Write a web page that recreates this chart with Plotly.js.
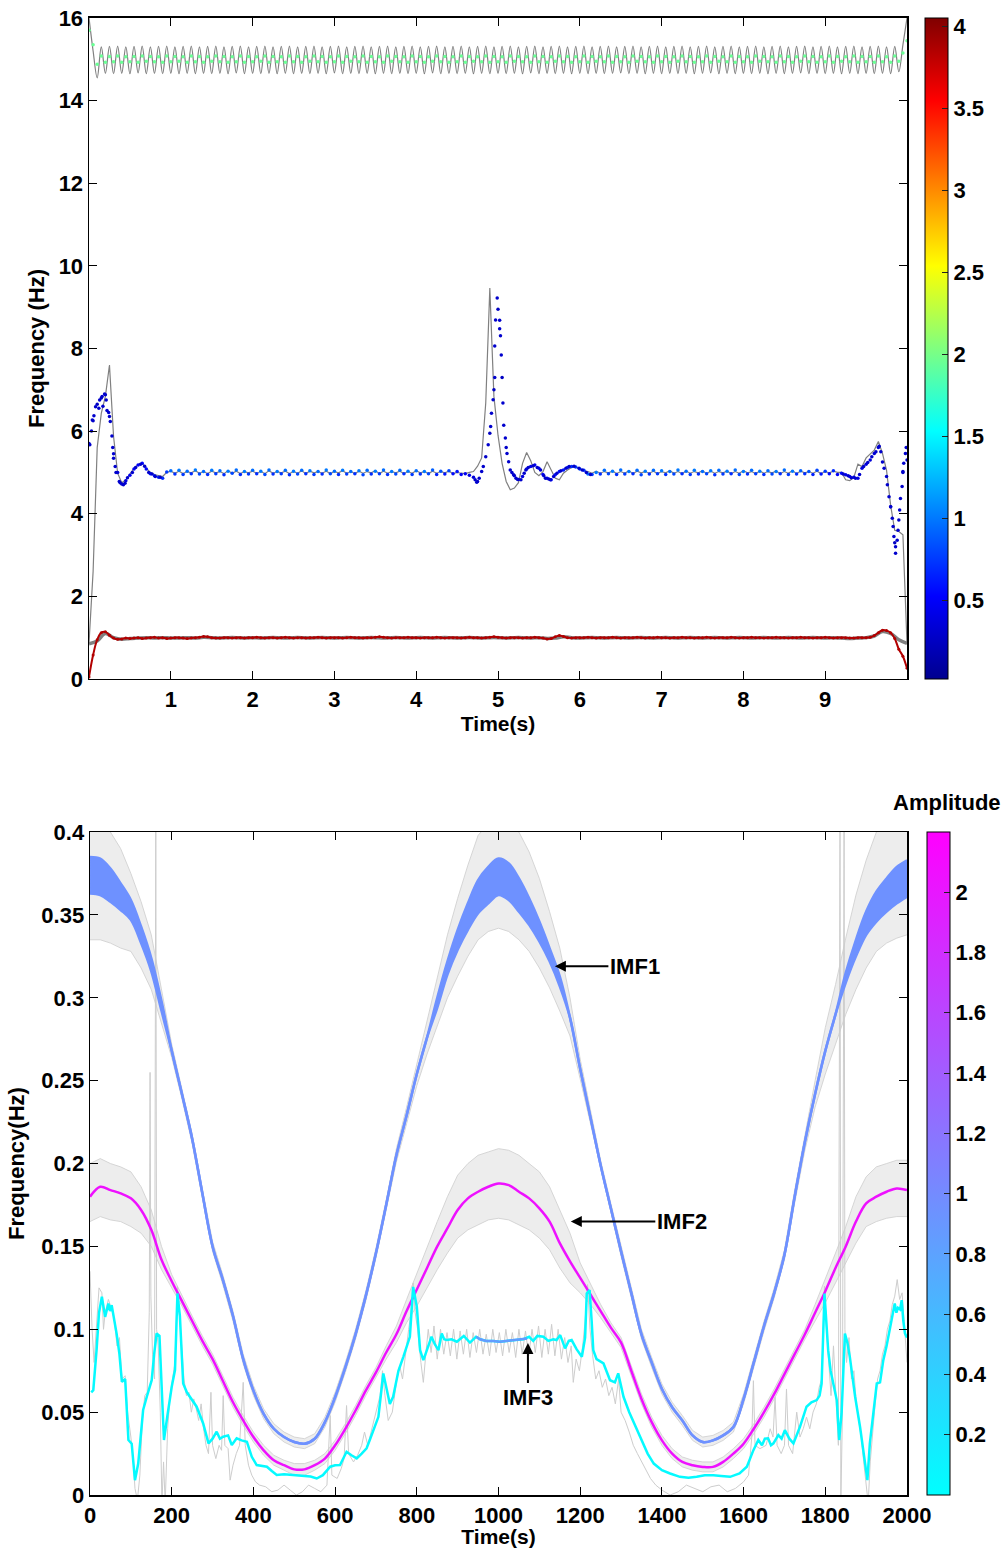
<!DOCTYPE html>
<html>
<head>
<meta charset="utf-8">
<script src="https://cdn.plot.ly/plotly-3.0.1.min.js"></script>
<style>html,body{margin:0;padding:0;background:#fff}#chart{width:1007px;height:1548px}</style>
</head>
<body>
<div id="chart"></div>
<script>
// ================= TOP PANEL DATA (time step 0.05 s, 0..10 s) =================
const TOP_DT = 0.05;
// grey reference line around 15 Hz
const GREY_15 = [
16.00,15.20,14.55,15.30,14.66,15.31,14.65,15.32,14.66,15.30,
14.65,15.31,14.67,15.32,14.65,15.30,14.66,15.31,14.65,15.32,
14.66,15.30,14.65,15.31,14.66,15.32,14.65,15.30,14.66,15.31,
14.65,15.32,14.66,15.30,14.65,15.31,14.67,15.32,14.65,15.30,
14.66,15.31,14.65,15.32,14.66,15.30,14.65,15.31,14.66,15.32,
14.65,15.30,14.66,15.31,14.65,15.32,14.66,15.30,14.65,15.31,
14.67,15.32,14.65,15.30,14.66,15.31,14.65,15.32,14.66,15.30,
14.65,15.31,14.66,15.32,14.65,15.30,14.66,15.31,14.65,15.32,
14.66,15.30,14.65,15.31,14.67,15.32,14.65,15.30,14.66,15.31,
14.65,15.32,14.66,15.30,14.65,15.31,14.66,15.32,14.65,15.30,
14.66,15.31,14.65,15.32,14.66,15.30,14.65,15.31,14.67,15.32,
14.65,15.30,14.66,15.31,14.65,15.32,14.66,15.30,14.65,15.31,
14.66,15.32,14.65,15.30,14.66,15.31,14.65,15.32,14.66,15.30,
14.67,15.31,14.65,15.32,14.66,15.30,14.65,15.31,14.66,15.32,
14.65,15.30,14.66,15.31,14.65,15.32,14.66,15.30,14.65,15.31,
14.66,15.32,14.67,15.30,14.65,15.31,14.66,15.32,14.65,15.30,
14.66,15.31,14.65,15.32,14.66,15.30,14.65,15.31,14.66,15.32,
14.65,15.30,14.66,15.31,14.67,15.32,14.65,15.30,14.66,15.31,
14.65,15.32,14.66,15.30,14.65,15.31,14.66,15.32,14.65,15.30,
14.66,15.31,14.65,15.32,14.66,15.30,14.65,15.31,14.70,15.35,
16.00];
// estimated frequency points around 15 Hz
const EST_15 = [
15.70,15.35,14.88,15.08,14.93,15.07,14.94,15.08,14.93,15.06,
14.94,15.07,14.93,15.08,14.95,15.07,14.94,15.06,14.93,15.08,
14.94,15.07,14.95,15.06,14.93,15.08,14.94,15.07,14.93,15.06,
14.95,15.08,14.94,15.07,14.93,15.06,14.94,15.08,14.93,15.07,
14.94,15.06,14.95,15.08,14.93,15.07,14.94,15.06,14.93,15.08,
14.94,15.07,14.93,15.06,14.95,15.08,14.94,15.07,14.93,15.06,
14.94,15.08,14.93,15.07,14.95,15.06,14.94,15.08,14.93,15.07,
14.94,15.06,14.93,15.08,14.95,15.07,14.94,15.06,14.93,15.08,
14.94,15.07,14.93,15.06,14.95,15.08,14.94,15.07,14.93,15.06,
14.94,15.08,14.93,15.07,14.95,15.06,14.94,15.08,14.93,15.07,
14.94,15.06,14.93,15.08,14.95,15.07,14.94,15.06,14.93,15.08,
14.94,15.07,14.93,15.06,14.95,15.08,14.94,15.07,14.93,15.06,
14.94,15.08,14.93,15.07,14.95,15.06,14.94,15.08,14.93,15.07,
14.94,15.06,14.93,15.08,14.95,15.07,14.94,15.06,14.93,15.08,
14.94,15.07,14.93,15.06,14.95,15.08,14.94,15.07,14.93,15.06,
14.94,15.08,14.93,15.07,14.95,15.06,14.94,15.08,14.93,15.07,
14.94,15.06,14.93,15.08,14.95,15.07,14.94,15.06,14.93,15.08,
14.94,15.07,14.93,15.06,14.95,15.08,14.94,15.07,14.93,15.06,
14.94,15.08,14.93,15.07,14.95,15.06,14.94,15.08,14.93,15.07,
14.94,15.07,14.93,15.08,14.94,15.06,14.93,15.08,14.95,15.15,
15.45];
const AMP_15 = 1.95;

// grey reference line around 5 Hz
const GREY_5 = [
0.88,2.60,5.60,6.43,6.84,7.60,5.87,4.98,4.75,4.82,
4.96,5.10,5.19,5.22,5.10,5.00,4.95,4.92,4.90,5.00,
5.03,4.98,5.03,4.97,5.02,4.99,5.04,4.98,5.02,4.97,
5.03,4.99,5.02,4.97,5.04,4.98,5.03,4.97,5.02,4.99,
5.03,4.98,5.02,4.97,5.04,4.98,5.02,4.99,5.03,4.97,
5.02,4.98,5.04,4.97,5.03,4.99,5.02,4.98,5.03,4.97,
5.02,4.99,5.04,4.98,5.02,4.97,5.03,4.98,5.02,4.99,
5.04,4.97,5.03,4.98,5.02,4.99,5.03,4.97,5.02,4.98,
5.04,4.99,5.02,4.97,5.03,4.98,5.02,4.99,5.03,4.97,
5.00,4.98,4.97,5.00,5.02,5.15,5.35,6.68,9.46,6.84,
5.90,5.22,4.78,4.58,4.62,4.75,5.22,5.48,5.28,5.00,
4.92,5.02,5.26,5.06,4.86,4.82,4.98,5.06,5.12,5.14,
5.08,5.04,5.02,4.98,5.03,4.98,5.02,4.99,5.03,4.97,
5.02,4.98,5.04,4.97,5.03,4.99,5.02,4.98,5.03,4.97,
5.02,4.99,5.04,4.98,5.02,4.97,5.03,4.98,5.02,4.99,
5.04,4.97,5.03,4.98,5.02,4.99,5.03,4.97,5.02,4.98,
5.04,4.99,5.02,4.97,5.03,4.98,5.02,4.99,5.03,4.97,
5.02,4.98,5.04,4.97,5.03,4.99,5.02,4.98,5.03,4.97,
5.02,4.99,5.03,5.00,5.00,4.82,4.80,4.88,5.20,5.14,
5.35,5.45,5.54,5.75,5.46,5.05,4.20,3.60,3.57,3.49,
0.86];
// estimated frequency points around 5 Hz
const EST_5 = [
5.70,6.25,6.65,6.80,6.88,6.35,5.45,5.00,4.72,4.80,
4.93,5.08,5.18,5.22,5.08,4.97,4.92,4.88,4.86,5.01,
5.04,4.96,5.05,4.95,5.03,4.97,5.06,4.96,5.02,4.95,
5.05,4.97,5.04,4.94,5.03,4.98,5.06,4.95,5.02,4.96,
5.05,4.97,5.03,4.95,5.06,4.96,5.02,4.97,5.05,4.94,
5.03,4.96,5.05,4.97,5.04,4.95,5.02,4.96,5.06,4.97,
5.03,4.95,5.05,4.96,5.02,4.97,5.04,4.94,5.05,4.96,
5.03,4.97,5.06,4.95,5.02,4.96,5.05,4.97,5.03,4.95,
5.04,4.96,5.02,4.97,5.06,4.95,5.03,4.96,5.04,4.97,
5.02,4.95,4.97,4.93,4.88,4.78,5.02,5.38,5.95,7.00,
8.95,7.30,5.60,5.06,4.92,4.83,4.90,5.08,5.14,5.18,
5.10,4.95,4.86,4.82,4.94,5.02,5.06,5.12,5.14,5.13,
5.08,5.05,4.96,4.95,5.00,4.96,5.05,4.97,5.03,4.95,
5.06,4.96,5.02,4.97,5.05,4.94,5.03,4.96,5.05,4.97,
5.04,4.95,5.02,4.96,5.06,4.97,5.03,4.95,5.05,4.96,
5.02,4.97,5.04,4.94,5.05,4.96,5.03,4.97,5.06,4.95,
5.02,4.96,5.05,4.97,5.03,4.95,5.04,4.96,5.02,4.97,
5.06,4.95,5.03,4.96,5.04,4.97,5.02,4.95,5.05,4.96,
5.03,4.97,5.04,4.95,4.98,4.94,4.90,4.88,4.86,5.10,
5.20,5.30,5.46,5.60,5.25,4.90,4.17,3.30,3.85,5.00,
5.30];
const AMP_5 = [
0.30,0.28,0.25,0.25,0.28,0.30,0.32,0.35,0.35,0.40,
0.45,0.50,0.50,0.55,0.55,0.60,0.62,0.65,0.70,0.75,
0.95,0.70,1.00,0.75,0.95,0.70,1.00,0.80,0.95,0.70,
1.00,0.75,0.95,0.70,1.00,0.80,0.95,0.70,1.00,0.75,
0.95,0.70,1.00,0.80,0.95,0.70,1.00,0.75,0.95,0.70,
1.00,0.80,0.95,0.70,1.00,0.75,0.95,0.70,1.00,0.80,
0.95,0.70,1.00,0.75,0.95,0.70,1.00,0.80,0.95,0.70,
1.00,0.75,0.95,0.70,1.00,0.80,0.95,0.70,1.00,0.75,
0.95,0.70,1.00,0.80,0.90,0.65,0.85,0.60,0.80,0.55,
0.60,0.50,0.45,0.40,0.35,0.30,0.30,0.28,0.25,0.25,
0.25,0.25,0.28,0.30,0.32,0.35,0.38,0.40,0.42,0.45,
0.48,0.50,0.52,0.55,0.58,0.60,0.62,0.65,0.70,0.75,
0.80,0.70,0.95,0.75,1.00,0.70,0.95,0.80,1.00,0.70,
0.95,0.75,1.00,0.70,0.95,0.80,1.00,0.70,0.95,0.75,
1.00,0.70,0.95,0.80,1.00,0.70,0.95,0.75,1.00,0.70,
0.95,0.80,1.00,0.70,0.95,0.75,1.00,0.70,0.95,0.80,
1.00,0.70,0.95,0.75,1.00,0.70,0.95,0.80,1.00,0.70,
0.95,0.75,1.00,0.70,0.90,0.70,0.85,0.65,0.80,0.60,
0.75,0.55,0.70,0.50,0.55,0.45,0.45,0.40,0.40,0.38,
0.36,0.35,0.33,0.32,0.30,0.30,0.28,0.25,0.25,0.28,
0.30];
// densely sampled transient points [time, frequency]
const EST_5_START = [[0.01,5.67],[0.03,6.0],[0.04,6.27],[0.06,6.37],[0.08,6.59],[0.12,6.55],[0.13,6.75],[0.16,6.84],[0.17,6.6],[0.19,6.9],[0.21,6.75],[0.22,6.5],[0.24,6.45],[0.26,6.23],[0.28,5.88],[0.29,5.6],[0.30,5.34],[0.32,5.14],[0.33,5.0],[0.37,4.78],[0.38,4.75],[0.42,4.70],[0.44,4.74],[0.47,4.87],[0.53,5.0],[0.57,5.12],[0.63,5.2],[0.68,5.15],[0.73,5.0],[0.77,4.96],[0.81,4.9],[0.87,4.88]];
const EST_5_SPIKE = [[4.72,4.82],[4.74,4.76],[4.77,4.86],[4.82,5.14],[4.88,5.67],[4.91,6.11],[4.92,6.43],[4.94,6.76],[4.96,7.30],[4.96,8.06],[4.97,8.69],[4.99,9.22],[5.02,8.68],[5.02,8.48],[5.03,8.31],[5.04,7.84],[5.06,6.68],[5.07,6.14],[5.09,5.83],[5.11,5.46],[5.13,5.26],[5.17,5.0],[5.19,4.94],[5.22,4.86],[5.24,4.83],[5.28,4.82],[5.32,4.98],[5.34,5.06],[5.37,5.12],[5.43,5.16],[5.48,5.12],[5.52,5.06],[5.56,4.92],[5.58,4.86],[5.62,4.84],[5.64,4.82],[5.68,4.9],[5.72,4.98],[5.77,5.04],[5.83,5.1],[5.87,5.14],[5.93,5.15],[5.99,5.1],[6.03,5.06],[6.08,5.0],[6.13,4.95]];
const EST_5_END = [[9.22,4.96],[9.28,4.92],[9.32,4.87],[9.37,4.86],[9.42,4.95],[9.47,5.14],[9.52,5.24],[9.57,5.38],[9.62,5.5],[9.66,5.63],[9.68,5.5],[9.72,5.1],[9.76,4.7],[9.78,4.41],[9.80,4.17],[9.82,3.89],[9.83,3.69],[9.84,3.45],[9.86,3.20],[9.86,3.04],[9.88,3.36],[9.89,3.6],[9.91,4.09],[9.92,4.37],[9.94,4.66],[9.95,5.02],[9.96,5.22],[9.98,5.46],[9.99,5.6]];
const AMP_TRANSIENT = 0.3;

// estimated frequency around 1 Hz (0.05 s step)
const EST_1 = [
0.05,0.58,0.95,1.12,1.14,1.06,0.99,0.96,0.97,0.99,
0.98,0.99,1.00,0.98,0.99,1.00,1.01,0.99,1.00,0.98,
0.99,1.00,1.00,0.99,0.98,0.99,1.00,1.01,1.03,1.02,
1.00,0.99,0.99,1.00,1.00,0.99,1.00,1.00,0.99,1.00,
1.00,1.01,1.00,0.99,1.00,1.00,0.99,1.00,1.01,1.00,
0.99,1.00,1.00,0.99,1.00,1.00,1.01,1.00,0.99,1.00,
1.00,1.00,0.99,1.00,1.01,1.00,1.00,0.99,1.00,1.00,
1.01,1.02,1.01,1.00,0.99,1.00,1.00,1.00,1.01,1.00,
1.00,0.99,1.00,1.00,1.00,1.01,1.00,0.99,1.00,1.00,
1.00,0.99,1.00,1.01,1.00,1.00,0.99,1.00,1.01,1.02,
1.01,1.00,0.99,1.00,1.00,1.00,0.99,1.00,1.00,1.01,
1.00,0.99,0.97,0.98,1.02,1.05,1.03,1.00,0.99,1.00,
1.00,1.00,1.01,1.00,0.99,1.00,1.00,1.00,1.01,1.00,
0.99,1.00,1.00,1.00,1.01,1.00,0.99,1.00,1.00,1.01,
1.00,1.00,0.99,1.00,1.00,1.01,1.00,1.00,0.99,1.00,
1.00,1.01,1.00,0.99,1.00,1.00,1.00,1.01,1.00,0.99,
1.00,1.00,1.01,1.00,1.00,0.99,1.00,1.00,1.01,1.00,
1.00,0.99,1.00,1.00,1.01,1.00,1.00,0.99,1.00,1.00,
1.01,1.00,0.99,1.00,1.00,1.00,0.99,0.99,1.00,1.00,
1.00,1.01,1.05,1.12,1.18,1.17,1.12,0.98,0.72,0.55,
0.26];
const AMP_1 = 3.85;
// grey reference line around 1 Hz (0.1 s step)
const GREY_1_DT = 0.1;
const GREY_1 = [
0.85,0.92,1.10,1.00,0.96,0.98,0.99,1.00,0.99,1.00,
0.99,0.99,1.00,0.99,1.01,1.00,0.99,1.00,1.00,0.99,
1.00,0.99,1.00,1.00,0.99,1.00,1.00,0.99,1.00,1.00,
0.99,1.00,1.00,0.99,1.00,1.00,0.99,1.00,1.00,0.99,
1.00,1.00,0.99,1.00,1.00,0.99,1.00,1.00,0.99,1.00,
1.00,0.99,1.00,1.00,0.99,1.00,0.98,0.99,1.02,1.00,
0.99,1.00,1.00,0.99,1.00,1.00,0.99,1.00,1.00,0.99,
1.00,1.00,0.99,1.00,1.00,0.99,1.00,1.00,0.99,1.00,
1.00,0.99,1.00,1.00,0.99,1.00,1.00,0.99,1.00,1.00,
0.99,1.00,0.99,0.98,0.99,1.00,1.04,1.15,1.10,0.95,
0.86];

// ================= BOTTOM PANEL DATA (step 25 s, 0..2000 s) =================
const BOT_DT = 25;
const IMF1_UP = [
0.385,0.384,0.378,0.369,0.359,0.343,0.324,0.298,
0.268,0.242,0.215,0.182,0.150,0.130,0.108,0.082,
0.063,0.049,0.040,0.035,0.032,0.031,0.034,0.044,
0.059,0.077,0.097,0.120,0.146,0.175,0.205,0.229,
0.254,0.276,0.300,0.322,0.341,0.357,0.371,0.379,
0.384,0.381,0.372,0.360,0.346,0.330,0.313,0.288,
0.257,0.228,0.199,0.173,0.147,0.122,0.097,0.080,
0.064,0.053,0.045,0.036,0.032,0.033,0.036,0.041,
0.058,0.080,0.102,0.122,0.145,0.180,0.213,0.242,
0.268,0.290,0.315,0.335,0.352,0.364,0.372,0.379,
0.383];
const IMF1_LO = [
0.363,0.362,0.358,0.353,0.347,0.333,0.316,0.292,
0.268,0.242,0.215,0.182,0.150,0.130,0.108,0.082,
0.063,0.049,0.040,0.035,0.032,0.031,0.034,0.044,
0.059,0.077,0.097,0.120,0.146,0.175,0.205,0.229,
0.254,0.276,0.294,0.314,0.329,0.341,0.351,0.357,
0.362,0.359,0.352,0.344,0.334,0.322,0.307,0.288,
0.257,0.228,0.199,0.173,0.147,0.122,0.097,0.080,
0.064,0.053,0.045,0.036,0.032,0.033,0.036,0.041,
0.058,0.080,0.102,0.122,0.145,0.180,0.213,0.242,
0.268,0.290,0.309,0.325,0.338,0.346,0.352,0.357,
0.361];
const IMF2 = [
0.180,0.186,0.184,0.182,0.179,0.172,0.160,0.142,
0.129,0.117,0.105,0.093,0.082,0.069,0.056,0.045,
0.035,0.027,0.021,0.018,0.0155,0.0155,0.018,0.022,
0.030,0.040,0.051,0.063,0.074,0.086,0.097,0.111,
0.124,0.137,0.150,0.161,0.172,0.179,0.183,0.186,
0.188,0.187,0.183,0.179,0.173,0.165,0.152,0.141,
0.131,0.121,0.111,0.101,0.092,0.075,0.058,0.044,
0.033,0.025,0.020,0.018,0.017,0.017,0.020,0.025,
0.031,0.040,0.050,0.061,0.073,0.085,0.097,0.110,
0.123,0.137,0.150,0.165,0.176,0.180,0.183,0.185,
0.184];
// grey (unsmoothed) envelopes
const GREY1_UP = [
0.405,0.405,0.400,0.390,0.375,0.358,0.338,0.305,
0.272,0.245,0.218,0.185,0.153,0.133,0.111,0.085,
0.066,0.052,0.043,0.038,0.035,0.034,0.037,0.047,
0.062,0.080,0.100,0.123,0.149,0.178,0.209,0.234,
0.261,0.286,0.312,0.338,0.360,0.380,0.398,0.405,
0.405,0.405,0.400,0.388,0.372,0.352,0.330,0.300,
0.263,0.232,0.202,0.176,0.150,0.125,0.100,0.083,
0.067,0.056,0.048,0.039,0.035,0.036,0.039,0.044,
0.061,0.083,0.105,0.125,0.148,0.184,0.218,0.250,
0.282,0.308,0.336,0.362,0.383,0.400,0.405,0.405,
0.405];
const GREY1_LO = [
0.335,0.335,0.333,0.330,0.328,0.318,0.305,0.285,
0.264,0.239,0.212,0.179,0.147,0.127,0.105,0.079,
0.060,0.046,0.037,0.032,0.029,0.028,0.031,0.041,
0.056,0.074,0.094,0.117,0.143,0.172,0.201,0.224,
0.247,0.266,0.283,0.300,0.313,0.325,0.335,0.340,
0.342,0.340,0.335,0.328,0.318,0.306,0.292,0.277,
0.251,0.224,0.196,0.170,0.144,0.119,0.094,0.077,
0.061,0.050,0.042,0.033,0.029,0.030,0.033,0.038,
0.055,0.077,0.099,0.119,0.142,0.176,0.208,0.234,
0.254,0.272,0.290,0.305,0.318,0.328,0.333,0.336,
0.338];
const GREY2_UP = [
0.200,0.203,0.200,0.198,0.195,0.186,0.172,0.150,
0.133,0.120,0.108,0.096,0.085,0.072,0.059,0.048,
0.038,0.030,0.024,0.021,0.019,0.019,0.021,0.025,
0.033,0.043,0.054,0.066,0.077,0.090,0.102,0.118,
0.134,0.150,0.165,0.180,0.193,0.200,0.205,0.207,
0.209,0.208,0.205,0.200,0.195,0.186,0.172,0.158,
0.140,0.127,0.115,0.104,0.095,0.078,0.061,0.047,
0.036,0.028,0.023,0.021,0.020,0.020,0.023,0.028,
0.034,0.043,0.053,0.064,0.076,0.088,0.100,0.115,
0.130,0.146,0.162,0.180,0.192,0.198,0.200,0.202,
0.202];
const GREY2_LO = [
0.165,0.168,0.166,0.165,0.162,0.158,0.150,0.136,
0.125,0.114,0.102,0.090,0.079,0.066,0.053,0.042,
0.032,0.024,0.018,0.015,0.012,0.012,0.015,0.019,
0.027,0.037,0.048,0.060,0.071,0.082,0.092,0.104,
0.114,0.125,0.136,0.146,0.155,0.160,0.163,0.166,
0.167,0.166,0.163,0.160,0.155,0.148,0.137,0.128,
0.122,0.115,0.107,0.098,0.089,0.072,0.055,0.041,
0.030,0.022,0.017,0.015,0.014,0.014,0.017,0.022,
0.028,0.037,0.047,0.058,0.070,0.082,0.094,0.105,
0.116,0.128,0.140,0.152,0.162,0.165,0.167,0.168,
0.168];
// IMF3 [time, frequency]
const IMF3 = [[3,0.062],[8,0.0633],[16,0.0874],[22,0.11],[29,0.1196],[37,0.1075],[45,0.1156],[49,0.111],[53,0.1146],[60,0.105],[65,0.0975],[72,0.085],[78,0.0683],[86,0.070],[94,0.0332],[102,0.031],[110,0.009],[118,0.019],[124,0.038],[130,0.0513],[139,0.0593],[151,0.0693],[157,0.085],[163,0.0975],[170,0.096],[175,0.0633],[181,0.0332],[189,0.0472],[200,0.0653],[208,0.0754],[214,0.1216],[220,0.108],[228,0.0673],[237,0.062],[245,0.0593],[261,0.0533],[277,0.0432],[290,0.0312],[300,0.034],[310,0.0382],[318,0.034],[326,0.0352],[338,0.036],[347,0.0302],[359,0.0342],[371,0.033],[384,0.0322],[396,0.0231],[408,0.0181],[420,0.0175],[433,0.0171],[445,0.0145],[457,0.0121],[475,0.0125],[490,0.0121],[505,0.0118],[522,0.0115],[540,0.0112],[555,0.0100],[570,0.012],[588,0.0171],[600,0.018],[612,0.0181],[620,0.022],[628,0.0261],[640,0.024],[653,0.0221],[665,0.025],[677,0.0282],[686,0.034],[694,0.0392],[706,0.0472],[718,0.0734],[726,0.065],[734,0.055],[742,0.0593],[755,0.075],[767,0.0834],[775,0.09],[783,0.0955],[791,0.1256],[800,0.1136],[808,0.0874],[816,0.0814],[824,0.087],[830,0.092],[836,0.0955],[844,0.091],[853,0.0874],[861,0.0975],[867,0.094],[873,0.0935],[885,0.094],[898,0.0925],[915,0.096],[930,0.092],[945,0.0955],[955,0.094],[970,0.093],[987,0.093],[1003,0.0925],[1020,0.093],[1040,0.0935],[1061,0.094],[1075,0.0955],[1085,0.093],[1095,0.096],[1110,0.0955],[1122,0.093],[1134,0.094],[1142,0.0935],[1151,0.0965],[1163,0.0885],[1172,0.093],[1179,0.0935],[1191,0.088],[1204,0.0834],[1212,0.095],[1216,0.1216],[1223,0.1236],[1228,0.105],[1232,0.0874],[1240,0.082],[1257,0.0794],[1273,0.0693],[1285,0.068],[1293,0.0734],[1306,0.0593],[1320,0.05],[1335,0.042],[1350,0.033],[1365,0.025],[1380,0.019],[1400,0.015],[1420,0.013],[1444,0.011],[1465,0.0105],[1485,0.011],[1505,0.012],[1526,0.012],[1545,0.0115],[1567,0.011],[1590,0.013],[1608,0.0171],[1624,0.0271],[1636,0.0332],[1645,0.030],[1652,0.034],[1660,0.0342],[1667,0.030],[1673,0.0312],[1685,0.0362],[1693,0.034],[1701,0.0392],[1712,0.034],[1722,0.0312],[1738,0.0412],[1746,0.047],[1754,0.0533],[1766,0.056],[1779,0.0573],[1786,0.06],[1791,0.0673],[1798,0.1216],[1803,0.1],[1807,0.0874],[1813,0.075],[1820,0.0673],[1828,0.0573],[1834,0.0332],[1840,0.05],[1848,0.0975],[1854,0.092],[1860,0.0834],[1873,0.0593],[1885,0.0412],[1897,0.0191],[1903,0.009],[1909,0.0312],[1918,0.05],[1926,0.0673],[1934,0.068],[1942,0.0814],[1950,0.09],[1958,0.0995],[1964,0.108],[1970,0.1156],[1974,0.110],[1978,0.113],[1983,0.112],[1987,0.1176],[1991,0.105],[1995,0.0975],[2000,0.095]];
// stretch of IMF3 with larger amplitude
const IMF3_MID = [[945,0.0955],[955,0.094],[970,0.093],[987,0.093],[1003,0.0925],[1020,0.093],[1040,0.0935],[1061,0.094],[1070,0.0945]];
// grey (unsmoothed) IMF3 [time, frequency]
const GREY3 = [[0,0.135],[5,0.10],[10,0.08],[16,0.10],[22,0.125],[29,0.122],[33,0.10],[37,0.11],[45,0.118],[53,0.112],[60,0.105],[66,0.09],[72,0.095],[78,0.07],[86,0.072],[92,0.05],[100,0.035],[106,0.02],[110,0.004],[116,-0.003],[122,0.012],[128,0.045],[134,0.06],[140,0.062],[145,0.11],[147,0.255],[149,0.12],[153,0.085],[158,0.07],[161,0.41],[163,0.1],[167,0.09],[172,0.05],[176,-0.005],[180,0.02],[184,-0.005],[190,0.04],[196,0.06],[202,0.07],[208,0.08],[214,0.126],[219,0.11],[224,0.09],[230,0.07],[236,0.06],[242,0.062],[248,0.05],[254,0.058],[260,0.052],[266,0.045],[272,0.055],[278,0.04],[284,0.03],[290,0.025],[296,0.062],[300,0.03],[308,0.022],[316,0.03],[322,0.027],[326,0.06],[330,0.03],[338,0.028],[343,0.009],[350,0.018],[358,0.025],[366,0.03],[375,0.068],[380,0.03],[388,0.018],[396,0.012],[405,0.008],[415,0.006],[430,0.005],[445,0.002],[460,0.003],[475,0.006],[490,0.003],[505,0.0],[520,0.002],[535,0.006],[550,0.004],[565,0.002],[580,0.006],[588,0.048],[592,0.012],[605,0.01],[615,0.016],[622,0.022],[628,0.054],[633,0.025],[645,0.02],[655,0.024],[665,0.03],[672,0.038],[680,0.03],[690,0.04],[700,0.05],[710,0.06],[716,0.075],[722,0.06],[730,0.045],[740,0.05],[750,0.068],[758,0.078],[765,0.07],[772,0.085],[780,0.1],[786,0.11],[791,0.128],[796,0.11],[802,0.1],[810,0.08],[816,0.068],[822,0.085],[828,0.1],[835,0.086],[842,0.102],[850,0.082],[858,0.1],[866,0.085],[874,0.098],[882,0.084],[890,0.1],[898,0.082],[906,0.099],[914,0.085],[922,0.1],[930,0.083],[938,0.098],[946,0.086],[954,0.1],[962,0.085],[970,0.097],[978,0.084],[986,0.1],[994,0.086],[1002,0.098],[1010,0.084],[1018,0.1],[1026,0.086],[1034,0.098],[1042,0.083],[1050,0.1],[1058,0.085],[1066,0.099],[1074,0.084],[1082,0.1],[1090,0.086],[1098,0.102],[1106,0.083],[1114,0.1],[1122,0.085],[1130,0.103],[1138,0.084],[1146,0.1],[1154,0.082],[1162,0.095],[1170,0.08],[1178,0.09],[1183,0.068],[1190,0.082],[1198,0.075],[1206,0.09],[1212,0.105],[1218,0.127],[1224,0.1],[1230,0.085],[1238,0.07],[1246,0.075],[1254,0.065],[1262,0.07],[1270,0.06],[1278,0.065],[1286,0.055],[1294,0.07],[1300,0.05],[1310,0.045],[1320,0.038],[1330,0.03],[1340,0.025],[1350,0.02],[1360,0.015],[1372,0.01],[1385,0.006],[1400,0.003],[1420,0.0],[1440,0.002],[1460,0.006],[1480,0.004],[1500,0.002],[1520,0.005],[1540,0.006],[1560,0.002],[1580,0.004],[1600,0.008],[1612,0.012],[1620,0.035],[1624,0.069],[1628,0.03],[1640,0.028],[1655,0.03],[1665,0.04],[1672,0.035],[1677,0.059],[1682,0.03],[1692,0.025],[1700,0.03],[1705,0.064],[1710,0.03],[1720,0.025],[1730,0.05],[1738,0.035],[1746,0.04],[1754,0.047],[1762,0.04],[1770,0.05],[1778,0.055],[1785,0.065],[1791,0.07],[1798,0.126],[1803,0.1],[1808,0.08],[1814,0.06],[1820,0.09],[1826,0.06],[1832,0.03],[1836,0.41],[1838,-0.005],[1842,0.05],[1846,0.41],[1848,0.1],[1852,0.08],[1858,0.095],[1864,0.07],[1870,0.075],[1876,0.055],[1882,0.045],[1888,0.035],[1894,0.02],[1900,0.008],[1905,-0.005],[1910,0.02],[1916,0.04],[1922,0.055],[1928,0.07],[1934,0.075],[1940,0.085],[1946,0.09],[1952,0.1],[1958,0.105],[1964,0.115],[1970,0.12],[1976,0.13],[1982,0.118],[1988,0.122],[1994,0.1],[2000,0.08]];
// IMF amplitudes (colour values)
const AMP_IMF1 = 0.95, AMP_IMF2 = 2.05, AMP_IMF3 = 0.04, AMP_IMF3_MID = 0.85;

// tick labels
const TOP_X_TICKS = [1,2,3,4,5,6,7,8,9];
const TOP_CB_TICKS = [0.5,1,1.5,2,2.5,3,3.5,4];
const BOT_CB_TICKS = [0.2,0.4,0.6,0.8,1,1.2,1.4,1.6,1.8,2];

// ================= colour scales =================
const JET = [[0,'rgb(0,0,143)'],[0.125,'rgb(0,0,255)'],[0.375,'rgb(0,255,255)'],[0.625,'rgb(255,255,0)'],[0.875,'rgb(255,0,0)'],[1,'rgb(128,0,0)']];
const JET_MIN = 0.02, JET_MAX = 4.05;
const COOL = [[0,'rgb(0,255,255)'],[1,'rgb(255,0,255)']];
const COOL_MIN = 0.0, COOL_MAX = 2.2;
function scaleColor(scale, vmin, vmax, v){
  const t = Math.max(0, Math.min(1, (v - vmin)/(vmax - vmin)));
  for (let i = 1; i < scale.length; i++){
    if (t <= scale[i][0]){
      const a = scale[i-1], b = scale[i];
      const f = (t - a[0])/(b[0]-a[0]);
      const ca = a[1].match(/\d+/g).map(Number), cb = b[1].match(/\d+/g).map(Number);
      const c = ca.map((x,k)=>Math.round(x + (cb[k]-x)*f));
      return 'rgb(' + c.join(',') + ')';
    }
  }
  return scale[scale.length-1][1];
}

// ================= traces =================
const xsFor = (arr, dt) => arr.map((_, i) => Math.round(i*dt*1000)/1000);
const FONT = {family:'Liberation Sans, Arial, Helvetica, sans-serif', size:22, color:'#000', weight:'bold'};
const GREY_TOP = '#808080';
const GREY_BOT = '#cdcdcd';
const traces = [];

// top: grey reference lines
traces.push({type:'scatter', mode:'lines', x:xsFor(GREY_15, TOP_DT), y:GREY_15, line:{color:GREY_TOP, width:1.2, shape:'spline', smoothing:1}, xaxis:'x', yaxis:'y', hoverinfo:'skip'});
traces.push({type:'scatter', mode:'lines', x:xsFor(GREY_5, TOP_DT), y:GREY_5, line:{color:GREY_TOP, width:1.2}, xaxis:'x', yaxis:'y', hoverinfo:'skip'});
traces.push({type:'scatter', mode:'lines', x:xsFor(GREY_1, GREY_1_DT), y:GREY_1, line:{color:GREY_TOP, width:3.5, shape:'spline'}, xaxis:'x', yaxis:'y', hoverinfo:'skip'});

// top: estimated frequencies coloured by amplitude
traces.push({type:'scatter', mode:'markers', x:xsFor(EST_15, TOP_DT), y:EST_15,
  marker:{size:3.5, color:EST_15.map(()=>AMP_15), coloraxis:'coloraxis'}, xaxis:'x', yaxis:'y'});
traces.push({type:'scatter', mode:'markers', x:xsFor(EST_5, TOP_DT), y:EST_5,
  marker:{size:3.5, color:AMP_5, coloraxis:'coloraxis'}, xaxis:'x', yaxis:'y'});
[EST_5_START, EST_5_SPIKE, EST_5_END].forEach(seg => {
  traces.push({type:'scatter', mode:'markers', x:seg.map(p=>p[0]), y:seg.map(p=>p[1]),
    marker:{size:3.5, color:seg.map(()=>AMP_TRANSIENT), coloraxis:'coloraxis'}, xaxis:'x', yaxis:'y'});
});
traces.push({type:'scatter', mode:'lines+markers', x:xsFor(EST_1, TOP_DT), y:EST_1,
  line:{color:scaleColor(JET, JET_MIN, JET_MAX, AMP_1), width:2, shape:'spline'},
  marker:{size:3, color:EST_1.map(()=>AMP_1), coloraxis:'coloraxis'}, xaxis:'x', yaxis:'y'});

// bottom: grey envelopes
function band(lo, up, lineColor, fillColor, width, shape){
  const xs = xsFor(lo, BOT_DT);
  traces.push({type:'scatter', mode:'lines', x:xs, y:lo, line:{color:lineColor, width:width, shape:shape}, xaxis:'x2', yaxis:'y2', hoverinfo:'skip'});
  traces.push({type:'scatter', mode:'lines', x:xs, y:up, fill:'tonexty', fillcolor:fillColor, line:{color:lineColor, width:width, shape:shape}, xaxis:'x2', yaxis:'y2', hoverinfo:'skip'});
}
band(GREY1_LO, GREY1_UP, GREY_BOT, 'rgba(200,200,200,0.32)', 0.8, 'linear');
band(GREY2_LO, GREY2_UP, GREY_BOT, 'rgba(200,200,200,0.32)', 0.8, 'linear');
traces.push({type:'scatter', mode:'lines', x:GREY3.map(p=>p[0]), y:GREY3.map(p=>p[1]), line:{color:GREY_BOT, width:1}, xaxis:'x2', yaxis:'y2', hoverinfo:'skip'});

// bottom: IMFs coloured by amplitude
const C1 = scaleColor(COOL, COOL_MIN, COOL_MAX, AMP_IMF1);
band(IMF1_LO, IMF1_UP, C1, C1, 2.5, 'spline');
traces.push({type:'scatter', mode:'lines', x:xsFor(IMF2, BOT_DT), y:IMF2, line:{color:scaleColor(COOL, COOL_MIN, COOL_MAX, AMP_IMF2), width:2.5, shape:'spline'}, xaxis:'x2', yaxis:'y2'});
traces.push({type:'scatter', mode:'lines', x:IMF3.map(p=>p[0]), y:IMF3.map(p=>p[1]), line:{color:scaleColor(COOL, COOL_MIN, COOL_MAX, AMP_IMF3), width:2.5}, xaxis:'x2', yaxis:'y2'});
traces.push({type:'scatter', mode:'lines', x:IMF3_MID.map(p=>p[0]), y:IMF3_MID.map(p=>p[1]), line:{color:scaleColor(COOL, COOL_MIN, COOL_MAX, AMP_IMF3_MID), width:2.5}, xaxis:'x2', yaxis:'y2'});
// carrier of the amplitude colour axis for the bottom panel (outside the visible range)
traces.push({type:'scatter', mode:'markers', x:[1000], y:[-1], marker:{size:1, color:[AMP_IMF1], coloraxis:'coloraxis2'}, xaxis:'x2', yaxis:'y2', hoverinfo:'skip'});

// ================= layout =================
const AX = {showgrid:false, zeroline:false, showline:true, linecolor:'#000', linewidth:1.5, mirror:'ticks',
  ticks:'inside', ticklen:8, tickwidth:1, tickcolor:'#000', tickfont:FONT, automargin:false, fixedrange:true};
const CB = {thickness:23, thicknessmode:'pixels', lenmode:'pixels', xanchor:'left', yanchor:'middle', xpad:0, ypad:0,
  outlinecolor:'#000', outlinewidth:1, ticks:'inside', ticklen:6, tickwidth:1, tickcolor:'#222', tickfont:FONT, tickmode:'array'};
const XTITLE_FONT = Object.assign({}, FONT, {size:21});

const layout = {
  width:1007, height:1548,
  margin:{l:0, r:0, t:0, b:0},
  paper_bgcolor:'#fff', plot_bgcolor:'#fff',
  showlegend:false, font:FONT,
  xaxis: Object.assign({}, AX, {domain:[0.0884,0.9007], range:[0,10], tickmode:'array', tickvals:TOP_X_TICKS, anchor:'y',
    title:{text:'Time(s)', font:XTITLE_FONT, standoff:1}}),
  yaxis: Object.assign({}, AX, {domain:[0.5614,0.9884], range:[0,16], tick0:0, dtick:2, anchor:'x',
    title:{text:'Frequency (Hz)', font:FONT, standoff:8}}),
  xaxis2: Object.assign({}, AX, {domain:[0.0894,0.9007], range:[0,2000], tick0:0, dtick:200, anchor:'y2',
    title:{text:'Time(s)', font:XTITLE_FONT, standoff:3}}),
  yaxis2: Object.assign({}, AX, {domain:[0.0342,0.4625], range:[0,0.4], tick0:0, dtick:0.05, anchor:'x2',
    title:{text:'Frequency(Hz)', font:FONT, standoff:10}}),
  coloraxis: {colorscale:JET, cmin:JET_MIN, cmax:JET_MAX, showscale:true,
    colorbar:Object.assign({}, CB, {x:0.9186, y:0.7749, len:661, tickvals:TOP_CB_TICKS})},
  coloraxis2: {colorscale:COOL, cmin:COOL_MIN, cmax:COOL_MAX, showscale:true,
    colorbar:Object.assign({}, CB, {x:0.9206, y:0.2484, len:663, tickvals:BOT_CB_TICKS})},
  annotations: [
    {xref:'paper', yref:'paper', x:0.9404, y:0.4813, text:'Amplitude', showarrow:false, font:FONT, xanchor:'center', yanchor:'middle'},
    {xref:'x2', yref:'y2', x:1138, y:0.319, text:'IMF1', showarrow:true, ax:80, ay:0, arrowhead:2, arrowsize:1.1, arrowwidth:2, arrowcolor:'#000', font:FONT},
    {xref:'x2', yref:'y2', x:1177, y:0.165, text:'IMF2', showarrow:true, ax:111, ay:0, arrowhead:2, arrowsize:1.1, arrowwidth:2, arrowcolor:'#000', font:FONT},
    {xref:'x2', yref:'y2', x:1072, y:0.0917, text:'IMF3', showarrow:true, ax:0, ay:54, arrowhead:2, arrowsize:1.1, arrowwidth:2, arrowcolor:'#000', font:FONT}
  ]
};

Plotly.newPlot('chart', traces, layout, {displayModeBar:false, staticPlot:true});
</script>
</body>
</html>
